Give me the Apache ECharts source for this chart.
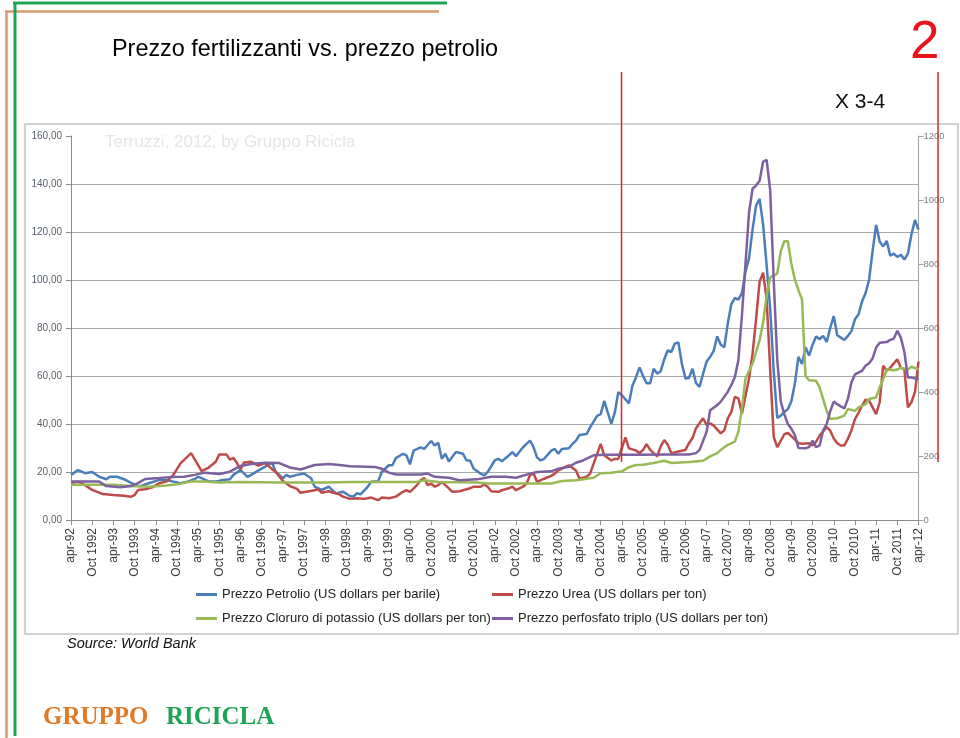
<!DOCTYPE html>
<html><head><meta charset="utf-8">
<script src="https://cdn.jsdelivr.net/npm/echarts@6/dist/echarts.min.js"></script>
<style>html,body{margin:0;padding:0;background:#fff}#c{width:960px;height:738px}</style>
</head><body><div id="c"></div>
<script>
// x: months since apr-92 (0 = apr-92, 240 = apr-12)
const xTickLabels = ['apr-92','Oct 1992','apr-93','Oct 1993','apr-94','Oct 1994','apr-95','Oct 1995','apr-96','Oct 1996','apr-97','Oct 1997','apr-98','Oct 1998','apr-99','Oct 1999','apr-00','Oct 2000','apr-01','Oct 2001','apr-02','Oct 2002','apr-03','Oct 2003','apr-04','Oct 2004','apr-05','Oct 2005','apr-06','Oct 2006','apr-07','Oct 2007','apr-08','Oct 2008','apr-09','Oct 2009','apr-10','Oct 2010','apr-11','Oct 2011','apr-12'];
const seriesNames = ['Prezzo Petrolio (US dollars per barile)','Prezzo Urea (US dollars per ton)','Prezzo Cloruro di potassio (US dollars per ton)','Prezzo perfosfato triplo (US dollars per ton)'];

// Petrolio, US$/barile (left axis)
const petrolio = [[0,18.8],[2,20.8],[4,19.5],[6,20.0],[8,18.0],[10,17.0],[11,18.0],[13,18.0],[15,17.0],[17,15.5],[19,14.2],[20,14.3],[22,15.3],[25,16.7],[27,16.7],[29,16.0],[31,15.3],[33,16.0],[35,17.0],[36,18.0],[37,17.4],[39,16.0],[41,16.0],[43,16.7],[45,17.0],[46,18.8],[48,20.8],[50,18.0],[51,18.8],[53,20.6],[55,22.2],[56,23.3],[57,23.6],[58,20.0],[60,17.4],[61,18.8],[62,18.0],[64,18.8],[66,19.4],[68,17.4],[69,13.9],[71,12.5],[73,13.9],[75,11.1],[77,11.8],[79,10.0],[80,9.8],[81,11.2],[82,10.7],[84,13.8],[85,15.9],[87,16.2],[88,20.0],[90,22.8],[91,22.8],[92,25.8],[94,27.6],[95,26.9],[96,23.2],[97,28.9],[99,30.3],[100,29.6],[102,32.9],[103,31.0],[104,32.2],[105,25.5],[106,27.6],[107,24.4],[109,28.3],[111,27.6],[112,24.8],[113,24.8],[114,21.5],[116,19.3],[117,18.6],[118,20.0],[120,24.8],[121,25.5],[122,24.5],[124,26.9],[125,28.3],[126,26.6],[128,30.3],[129,31.7],[130,33.1],[131,30.3],[132,26.0],[133,24.8],[134,25.5],[136,28.9],[137,29.6],[138,27.6],[139,29.6],[141,29.9],[142,31.7],[143,33.1],[144,35.4],[146,35.8],[147,38.6],[149,43.4],[150,44.1],[151,49.6],[153,40.0],[154,44.8],[155,53.3],[156,52.0],[158,48.6],[159,56.0],[160,59.5],[161,63.6],[162,60.0],[163,57.0],[164,57.0],[165,63.0],[166,61.0],[167,62.0],[168,67.0],[169,70.7],[170,70.0],[171,73.5],[172,74.0],[173,65.0],[174,59.0],[175,59.2],[176,63.0],[177,57.0],[178,55.5],[179,61.0],[180,66.0],[181,68.0],[182,70.5],[183,76.5],[184,73.0],[185,72.0],[186,82.0],[187,90.0],[188,92.5],[189,91.8],[190,94.5],[191,103.5],[192,109.0],[193,121.0],[194,131.0],[195,133.8],[196,123.0],[197,106.0],[198,88.0],[199,62.0],[200,42.5],[201,43.5],[202,45.0],[203,46.2],[204,49.5],[205,57.0],[206,68.0],[207,65.0],[208,72.0],[209,68.5],[210,73.0],[211,76.5],[212,75.3],[213,76.7],[214,74.2],[215,80.0],[216,85.0],[217,77.0],[218,76.0],[219,75.0],[220,76.7],[221,78.7],[222,83.6],[223,85.6],[224,91.0],[225,94.5],[226,100.0],[227,112.0],[228,123.0],[229,116.0],[230,114.0],[231,116.3],[232,110.1],[233,111.0],[234,109.6],[235,110.5],[236,108.5],[237,111.0],[238,119.0],[239,125.0],[240,121.0]];

// Urea, US$/ton (right axis)
const urea = [[0,115],[2,120],[4,109],[6,94],[9,81],[12,78],[15,76],[17,73],[18,78],[19,94],[21,96],[23,102],[25,115],[27,120],[29,141],[31,177],[33,198],[34,209],[35,190],[37,153],[39,164],[41,182],[42,205],[44,205],[45,189],[46,194],[47,178],[48,158],[49,180],[51,182],[53,170],[55,178],[57,158],[58,150],[60,122],[62,106],[64,97],[65,85],[67,89],[69,93],[70,96],[71,85],[73,90],[74,86],[76,80],[77,73],[79,66],[81,68],[83,66],[85,70],[87,62],[88,70],[90,68],[92,73],[94,88],[95,93],[96,88],[98,109],[99,124],[100,131],[101,109],[102,114],[103,104],[104,109],[105,119],[107,99],[108,88],[110,90],[111,93],[113,99],[114,104],[116,104],[117,111],[118,104],[119,90],[121,88],[122,93],[124,99],[125,104],[126,93],[128,104],[129,114],[130,140],[131,145],[132,119],[134,129],[136,138],[137,145],[138,155],[140,166],[141,171],[143,155],[144,129],[146,135],[147,145],[148,176],[150,238],[151,202],[153,186],[154,191],[155,191],[156,225],[157,258],[158,224],[160,217],[161,209],[162,219],[163,237],[164,219],[166,199],[167,230],[168,250],[169,235],[170,209],[172,214],[174,219],[175,240],[176,256],[177,287],[179,318],[180,297],[181,302],[182,295],[184,271],[185,280],[186,318],[187,338],[188,385],[189,380],[190,333],[192,442],[193,519],[194,628],[195,745],[196,773],[197,690],[198,470],[199,260],[200,228],[202,268],[203,272],[204,262],[206,240],[207,238],[209,240],[210,233],[211,245],[212,264],[214,290],[215,279],[216,255],[217,240],[218,233],[219,233],[220,254],[221,280],[222,315],[223,335],[224,357],[225,376],[226,373],[228,331],[229,368],[230,482],[231,466],[232,476],[234,502],[235,476],[236,471],[237,352],[238,368],[239,400],[240,495]];

// Cloruro di potassio, US$/ton (right axis)
const potassio = [[0,110],[6,110],[12,110],[17,106],[22,104],[27,108],[30,112],[34,120],[38,120],[42,117],[48,119],[60,117],[72,117],[79,119],[90,119],[98,119],[100,124],[104,119],[115,117],[118,114],[136,114],[139,122],[143,124],[146,129],[148,132],[150,146],[153,148],[156,152],[158,165],[160,172],[162,173],[165,178],[168,185],[170,178],[175,181],[179,185],[181,199],[183,209],[184,219],[186,235],[188,245],[189,276],[190,349],[191,442],[193,489],[194,525],[195,561],[196,618],[197,701],[198,758],[200,770],[201,840],[202,871],[203,871],[204,800],[205,751],[206,718],[207,690],[208,450],[209,437],[211,435],[212,414],[213,378],[214,341],[215,316],[217,318],[219,326],[220,347],[222,341],[223,352],[225,362],[226,378],[228,383],[229,414],[230,440],[231,471],[233,468],[234,470],[235,476],[237,470],[238,479],[240,471]];

// Perfosfato triplo, US$/ton (right axis)
const perfosfato = [[0,120],[4,120],[8,120],[10,106],[14,102],[17,106],[19,115],[21,128],[25,131],[28,134],[32,135],[35,141],[38,148],[42,144],[45,151],[48,169],[51,175],[55,179],[59,178],[62,164],[65,158],[69,172],[73,175],[76,172],[79,168],[86,166],[88,160],[90,148],[92,142],[99,142],[101,145],[103,135],[107,132],[110,124],[115,127],[119,135],[123,135],[126,132],[130,145],[132,150],[136,152],[138,160],[141,166],[143,179],[145,186],[148,202],[151,204],[160,204],[170,205],[175,205],[177,209],[178,219],[180,276],[181,343],[183,359],[184,370],[186,401],[187,422],[188,447],[189,500],[190,640],[191,800],[192,960],[193,1035],[194,1045],[195,1060],[196,1120],[197,1125],[198,1030],[199,750],[200,500],[201,370],[202,330],[203,300],[204,285],[205,265],[206,225],[208,224],[209,228],[210,248],[211,228],[212,233],[213,280],[214,300],[215,340],[216,370],[217,362],[218,355],[219,349],[220,378],[221,430],[222,455],[224,466],[225,482],[226,490],[227,505],[228,539],[229,554],[231,556],[232,563],[233,567],[234,591],[235,570],[236,525],[237,445],[238,445],[240,440]];

const colors = ['#4a7ebb','#be4b48','#98b954','#7d60a0'];
const FONT = '"Liberation Sans", Arial, sans-serif';

const chart = echarts.init(document.getElementById('c'), null, {renderer:'canvas'});

function mkLegend(name, left, top) {
  return {data:[name], left:left, top:top, padding:0, itemWidth:21, itemHeight:3, icon:'rect',
    textStyle:{fontFamily:FONT, fontSize:13, color:'#222'}, selectedMode:false};
}
const gridLines = ['#a9a9a9','#a9a9a9','#a9a9a9','#a9a9a9','#a9a9a9','#a9a9a9','#a9a9a9','#a9a9a9','rgba(0,0,0,0)'];

const option = {
  animation:false,
  color: colors,
  grid:{left:71, right:41.5, top:136, bottom:218},
  xAxis:{type:'value', min:0, max:240, interval:6,
    axisLine:{show:true, onZero:false, lineStyle:{color:'#8c8c8c', width:1}},
    axisTick:{show:true, length:5, lineStyle:{color:'#8c8c8c'}},
    splitLine:{show:false},
    axisLabel:{rotate:90, margin:8, fontFamily:FONT, fontSize:12, color:'#3a3a3a',
      formatter:function(v){ return xTickLabels[Math.round(v/6)] || ''; }}},
  yAxis:[
    {type:'value', min:0, max:160, interval:20, position:'left',
      axisLine:{show:true, lineStyle:{color:'#8c8c8c'}},
      axisTick:{show:true, length:5, lineStyle:{color:'#8c8c8c'}},
      splitLine:{show:true, lineStyle:{color:gridLines, width:1}},
      axisLabel:{margin:9, fontFamily:FONT, fontSize:10, color:'#56606c',
        formatter:function(v){ return v.toFixed(2).replace('.', ','); }}},
    {type:'value', min:0, max:1200, interval:200, position:'right',
      axisLine:{show:true, lineStyle:{color:'#a0a0a0'}},
      axisTick:{show:true, length:5, lineStyle:{color:'#a0a0a0'}},
      splitLine:{show:false},
      axisLabel:{margin:5, fontFamily:FONT, fontSize:9.5, color:'#808080',
        formatter:function(v){ return String(v); }}}
  ],
  legend:[
    mkLegend(seriesNames[0], 196, 588),
    mkLegend(seriesNames[1], 492, 588),
    mkLegend(seriesNames[2], 196, 612),
    mkLegend(seriesNames[3], 492, 612)
  ],
  series:[
    {name:seriesNames[0], type:'line', yAxisIndex:0, data:petrolio, showSymbol:false, lineStyle:{width:2.5}},
    {name:seriesNames[1], type:'line', yAxisIndex:1, data:urea, showSymbol:false, lineStyle:{width:2.5}},
    {name:seriesNames[2], type:'line', yAxisIndex:1, data:potassio, showSymbol:false, lineStyle:{width:2.5}},
    {name:seriesNames[3], type:'line', yAxisIndex:1, data:perfosfato, showSymbol:false, lineStyle:{width:2.5}}
  ],
  graphic:[
    {type:'rect', z:-10, shape:{x:25, y:124, width:933, height:510}, style:{fill:'none', stroke:'#c4c4c4', lineWidth:1.5}},
    {type:'text', z:-5, left:105, top:134, style:{text:'Terruzzi, 2012, by Gruppo Ricicla', font:'17px ' + FONT, fill:'#e6e6e6'}},
    {type:'line', z:50, shape:{x1:5, y1:11.5, x2:439, y2:11.5}, style:{stroke:'#d99a6c', lineWidth:2.5}},
    {type:'line', z:50, shape:{x1:6.5, y1:11, x2:6.5, y2:738}, style:{stroke:'#d99a6c', lineWidth:2.5}},
    {type:'line', z:51, shape:{x1:13, y1:3, x2:447, y2:3}, style:{stroke:'#1ea457', lineWidth:3}},
    {type:'line', z:51, shape:{x1:15, y1:2, x2:15, y2:736}, style:{stroke:'#1ea457', lineWidth:3}},
    {type:'text', left:112, top:38, style:{text:'Prezzo fertilizzanti vs. prezzo petrolio', font:'23.4px ' + FONT, fill:'#000'}},
    {type:'text', left:910, top:17, style:{text:'2', font:'53px ' + FONT, fill:'#e8151b'}},
    {type:'text', left:835, top:92, style:{text:'X 3-4', font:'21px ' + FONT, fill:'#111'}},
    {type:'line', z:100, shape:{x1:621.5, y1:72, x2:621.5, y2:462}, style:{stroke:'#e0242a', lineWidth:1.5}},
    {type:'line', z:100, shape:{x1:938, y1:72, x2:938, y2:462}, style:{stroke:'#e0242a', lineWidth:1.5}},
    {type:'text', left:67, top:636, style:{text:'Source: World Bank', font:'italic 14.5px ' + FONT, fill:'#111'}},
    {type:'text', left:43, top:705, style:{text:'GRUPPO', font:'bold 25px "Liberation Serif", "Times New Roman", serif', fill:'#e07a26'}},
    {type:'text', left:166, top:705, style:{text:'RICICLA', font:'bold 25px "Liberation Serif", "Times New Roman", serif', fill:'#1ea457'}}
  ]
};
chart.setOption(option);
</script></body></html>
